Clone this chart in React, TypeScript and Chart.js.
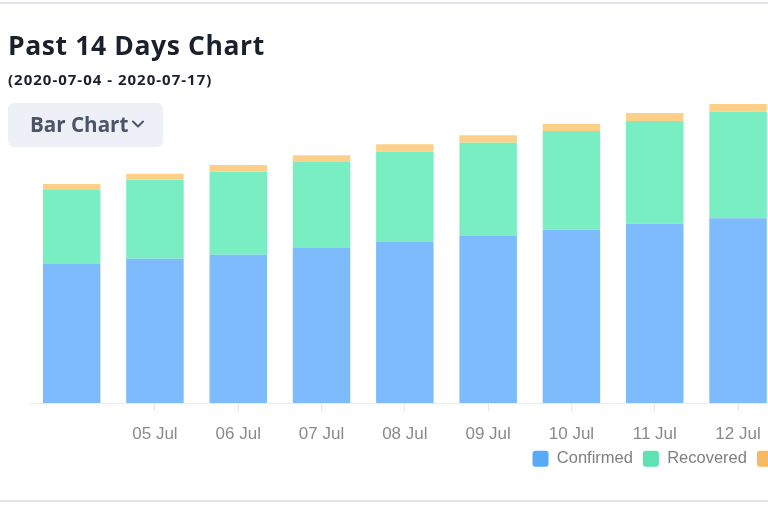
import React, { useEffect, useRef } from "react";
import { Chart, registerables } from "chart.js";

Chart.register(...registerables);

const dayLabels = ["04 Jul", "05 Jul", "06 Jul", "07 Jul", "08 Jul", "09 Jul", "10 Jul", "11 Jul", "12 Jul", "13 Jul", "14 Jul", "15 Jul", "16 Jul", "17 Jul"];
const confirmedValues = [27800, 28860, 29660, 31000, 32200, 33400, 34660, 35860, 36940, 38100, 39300, 40500, 41700, 42900];
const recoveredValues = [14940, 15800, 16600, 17200, 18060, 18660, 19740, 20540, 21320, 22100, 22900, 23700, 24500, 25300];
const deathValues = [1060, 1200, 1340, 1340, 1480, 1480, 1400, 1600, 1540, 1600, 1650, 1700, 1750, 1800];
const seriesNames = ["Confirmed", "Recovered", "Deaths"];
const barColors = ["#7dbbfc", "#7aeec3", "#fdd08a"];
const legendColors = ["#58aaf5", "#5fe2b2", "#f9b962"];
const yMax = 72000;

const FONT = "'Liberation Sans', Arial, sans-serif";
const HEAD_FONT = "'Open Sans', Lato, sans-serif";

function ChartCanvas() {
  const ref = useRef<HTMLCanvasElement | null>(null);
  useEffect(() => {
    if (!ref.current) return;
    const values = [confirmedValues, recoveredValues, deathValues];
    const chart = new Chart(ref.current, {
      type: "bar",
      data: {
        labels: dayLabels,
        datasets: seriesNames.map((name, i) => ({
          label: name,
          data: values[i],
          backgroundColor: barColors[i],
          borderWidth: 0,
          categoryPercentage: 0.8,
          barPercentage: 0.863,
        })),
      },
      options: {
        responsive: false,
        animation: false,
        layout: { padding: 0 },
        plugins: {
          tooltip: { enabled: false },
          legend: {
            position: "bottom",
            labels: {
              boxWidth: 16,
              boxHeight: 16,
              padding: 10,
              color: "#7f7f7f",
              font: { family: FONT, size: 16.5 },
              useBorderRadius: true,
              borderRadius: 3,
              generateLabels: (c: any) =>
                c.data.datasets.map((d: any, i: number) => ({
                  text: d.label,
                  fillStyle: legendColors[i],
                  strokeStyle: legendColors[i],
                  fontColor: "#7f7f7f",
                  lineWidth: 0,
                  hidden: false,
                  datasetIndex: i,
                  borderRadius: 3,
                })),
            },
          },
        },
        scales: {
          x: {
            stacked: true,
            grid: { drawOnChartArea: false, drawTicks: true, tickLength: 8, color: "#e6e6e6", offset: false },
            border: { display: true, color: "#ececec" },
            ticks: {
              padding: 18,
              color: "#8a8a8a",
              font: { family: FONT, size: 17, lineHeight: "11px" },
              maxRotation: 0,
              autoSkip: false,
              callback: (_v: any, i: number) => (i === 0 ? null : dayLabels[i]),
            },
            afterFit: (s: any) => {
              s.height = 37.5;
              s._computeLabelArea = () => undefined;
            },
          },
          y: {
            stacked: true,
            position: "right",
            min: 0,
            max: yMax,
            grid: { display: false, drawTicks: false },
            border: { display: false },
            ticks: { display: false },
            afterFit: (s: any) => {
              s.width = 139.8;
            },
          },
        },
      },
    });
    return () => chart.destroy();
  }, []);
  return (
    <canvas
      ref={ref}
      width={1306}
      height={434}
      style={{ position: "absolute", left: 29.9, top: 43, width: 1306, height: 434 }}
    />
  );
}

export default function App() {
  return (
    <div style={{ position: "absolute", left: 0, top: 0, width: 768, height: 512, overflow: "hidden", background: "#fff" }}>
      <div style={{ position: "absolute", left: 0, top: 1.5, width: 768, height: 2, background: "#e3e3ea" }} />
      <div style={{ position: "absolute", left: 0, top: 499.5, width: 768, height: 2, background: "#e3e3ea" }} />
      <ChartCanvas />
      <div style={{ position: "absolute", left: 8, top: 31.5, fontFamily: HEAD_FONT, fontWeight: 700, fontSize: 26.5, lineHeight: "26.5px", letterSpacing: 0.6, color: "#1a202c", whiteSpace: "nowrap" }}>
        Past 14 Days Chart
      </div>
      <div style={{ position: "absolute", left: 8, top: 71.7, fontFamily: HEAD_FONT, fontWeight: 700, fontSize: 15, lineHeight: "15px", letterSpacing: 1, color: "#1a202c", whiteSpace: "nowrap" }}>
        (2020-07-04 - 2020-07-17)
      </div>
      <div style={{ position: "absolute", left: 8, top: 103, width: 155, height: 44, borderRadius: 6, background: "#edf1f7" }}>
        <div style={{ position: "absolute", left: 22, top: 10.8, fontFamily: HEAD_FONT, fontWeight: 700, fontSize: 20.6, lineHeight: "20.6px", color: "#4a5568", whiteSpace: "nowrap" }}>
          Bar Chart
        </div>
        <svg width="14" height="10" style={{ position: "absolute", left: 123, top: 16 }}>
          <polyline points="2,2.5 7,7.5 12,2.5" fill="none" stroke="#4a5568" strokeWidth="2" strokeLinecap="round" strokeLinejoin="round" />
        </svg>
      </div>
    </div>
  );
}
